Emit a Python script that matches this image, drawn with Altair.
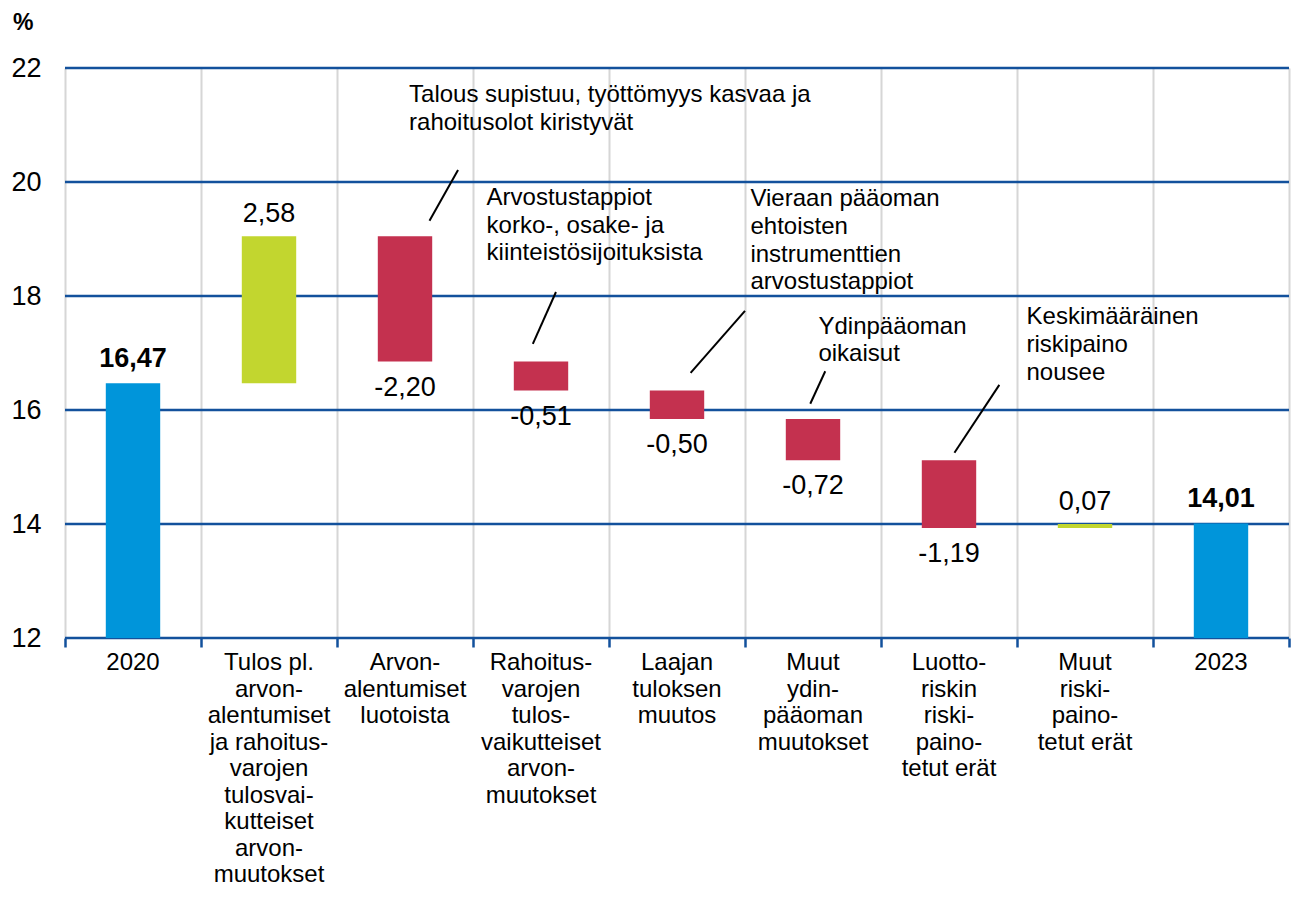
import altair as alt
import pandas as pd

# ---- data ----
categories = [
    "2020",
    "Tulos pl.\narvon-\nalentumiset\nja rahoitus-\nvarojen\ntulosvai-\nkutteiset\narvon-\nmuutokset",
    "Arvon-\nalentumiset\nluotoista",
    "Rahoitus-\nvarojen\ntulos-\nvaikutteiset\narvon-\nmuutokset",
    "Laajan\ntuloksen\nmuutos",
    "Muut\nydin-\npääoman\nmuutokset",
    "Luotto-\nriskin\nriski-\npaino-\ntetut erät",
    "Muut\nriski-\npaino-\ntetut erät",
    "2023",
]
values = [16.47, 2.58, -2.20, -0.51, -0.50, -0.72, -1.19, 0.07, 14.01]
kinds = ["total", "delta", "delta", "delta", "delta", "delta", "delta", "delta", "total"]
value_labels = ["16,47", "2,58", "-2,20", "-0,51", "-0,50", "-0,72", "-1,19", "0,07", "14,01"]

y_ticks = [12, 14, 16, 18, 20, 22]

notes = [
    "Talous supistuu, työttömyys kasvaa ja\nrahoitusolot kiristyvät",
    "Arvostustappiot\nkorko-, osake- ja\nkiinteistösijoituksista",
    "Vieraan pääoman\nehtoisten\ninstrumenttien\narvostustappiot",
    "Ydinpääoman\noikaisut",
    "Keskimääräinen\nriskipaino\nnousee",
]
note_x = [2.53, 3.10, 5.04, 5.54, 7.07]
note_y = [21.74, 19.93, 19.91, 17.67, 17.84]
leader_x1 = [2.68, 3.44, 4.60, 5.48, 6.54]
leader_x2 = [2.89, 3.61, 5.00, 5.59, 6.87]
leader_y1 = [19.32, 17.16, 16.65, 16.11, 15.25]
leader_y2 = [20.21, 18.07, 17.74, 16.68, 16.44]

BLUE = "#0095DA"
GREEN = "#C2D62F"
RED = "#C4314F"
GRID_BLUE = "#13519C"
FONT = "Liberation Sans"

# ---- build table ----
rows = []
running = 0.0
for i, (c, v, k, lab) in enumerate(zip(categories, values, kinds, value_labels)):
    if k == "total":
        start, end = 0.0, v
        color = BLUE
    else:
        start, end = running, running + v
        color = GREEN if v > 0 else RED
    running = end
    rows.append(dict(idx=i, cat=c, start=start, end=end, val=v, kind=k,
                     label=lab, color=color, up=bool(v > 0)))
df = pd.DataFrame(rows)

xscale = alt.Scale(domain=[0, 9], nice=False, zero=False)
yscale = alt.Scale(domain=[12, 22], nice=False, zero=False)

base = alt.Chart(df)

hrules = alt.Chart(pd.DataFrame({"y": y_ticks})).mark_rule(
    color=GRID_BLUE, strokeWidth=2.5
).encode(
    y=alt.Y("y:Q", scale=yscale,
            axis=alt.Axis(values=y_ticks, format="d", grid=False, domain=False,
                          ticks=False, labelFontSize=27, labelFont=FONT,
                          labelColor="black", labelPadding=24, title=None)),
)

bars = base.transform_calculate(
    x0="datum.idx + 0.3", x1="datum.idx + 0.7"
).mark_bar(clip=True).encode(
    x=alt.X("x0:Q", scale=xscale,
            axis=alt.Axis(values=list(range(10)), grid=True, gridColor="#D6D6D6",
                          gridWidth=2, labels=False, domain=False, ticks=True,
                          tickColor=GRID_BLUE, tickWidth=2.5, tickSize=9,
                          title=None)),
    x2="x1:Q",
    y=alt.Y("start:Q", scale=yscale),
    y2="end:Q",
    color=alt.Color("color:N", scale=None),
)


def value_text(filt, weight, dy):
    return base.transform_filter(filt).transform_calculate(
        xc="datum.idx + 0.5"
    ).mark_text(fontSize=27, font=FONT, baseline="middle", dy=dy,
                fontWeight=weight, color="black").encode(
        x=alt.X("xc:Q", scale=xscale),
        y=alt.Y("end:Q", scale=yscale),
        text="label:N",
    )


tot_labels = value_text("datum.kind == 'total'", "bold", -24)
pos_labels = value_text("datum.kind != 'total' && datum.up", "normal", -22)
neg_labels = value_text("!datum.up", "normal", 26)

cat_labels = base.transform_calculate(
    xc="datum.idx + 0.5", yb="12"
).mark_text(fontSize=24, font=FONT, baseline="top", align="center", dy=13,
            lineBreak="\n", lineHeight=26.5, color="black").encode(
    x=alt.X("xc:Q", scale=xscale),
    y=alt.Y("yb:Q", scale=yscale),
    text="cat:N",
)

notes_df = pd.DataFrame({"t": notes, "x": note_x, "y": note_y})
note_text = alt.Chart(notes_df).mark_text(
    fontSize=24, font=FONT, align="left", baseline="top", lineBreak="\n",
    lineHeight=27.7, color="black"
).encode(
    x=alt.X("x:Q", scale=xscale),
    y=alt.Y("y:Q", scale=yscale),
    text="t:N",
)

leaders_df = pd.DataFrame({"x1": leader_x1, "x2": leader_x2,
                           "y1": leader_y1, "y2": leader_y2})
leaders = alt.Chart(leaders_df).mark_rule(color="black", strokeWidth=2).encode(
    x=alt.X("x1:Q", scale=xscale),
    x2="x2:Q",
    y=alt.Y("y1:Q", scale=yscale),
    y2="y2:Q",
)

pct = alt.Chart(pd.DataFrame({"t": ["%"], "x": [0], "y": [22]})).mark_text(
    fontSize=23, font=FONT, fontWeight="bold", align="left", baseline="middle",
    dx=-52, dy=-45, color="black"
).encode(
    x=alt.X("x:Q", scale=xscale),
    y=alt.Y("y:Q", scale=yscale),
    text="t:N",
)

chart = alt.layer(
    hrules, bars, tot_labels, pos_labels, neg_labels, cat_labels, note_text,
    leaders, pct
).properties(
    width=1224, height=570,
    padding={"left": 2, "top": 4, "right": 0, "bottom": 0},
).configure_view(stroke=None).configure(background="white")

chart.save("out.html", embed_options={"renderer": "svg", "actions": False})
